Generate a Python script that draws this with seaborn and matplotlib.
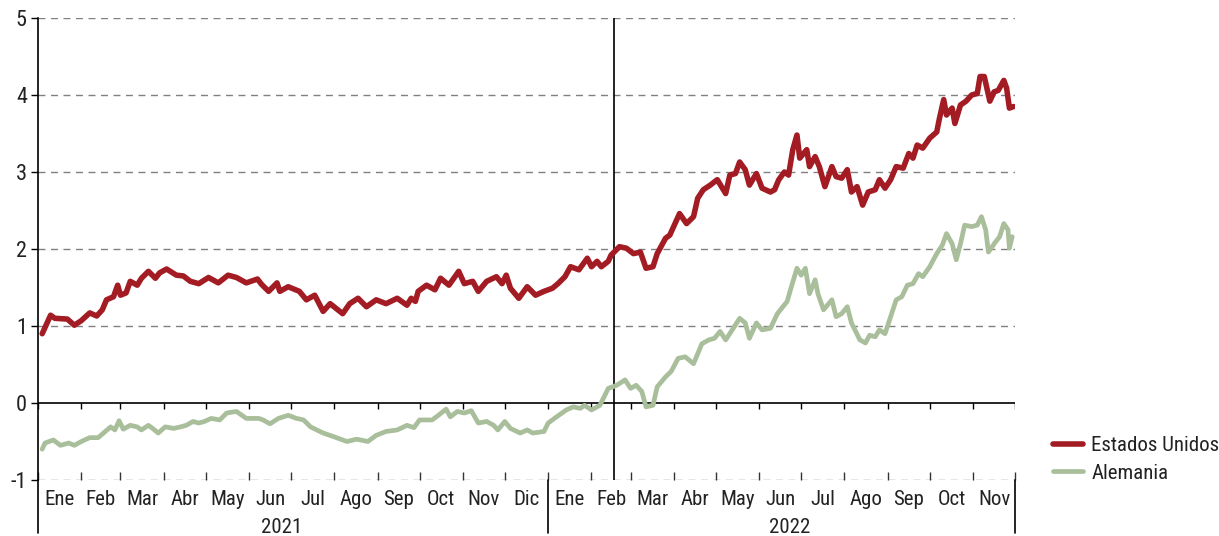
import matplotlib
matplotlib.use("Agg")
import matplotlib.pyplot as plt
import matplotlib.transforms as mtransforms
from matplotlib.lines import Line2D
from matplotlib import font_manager
import seaborn as sns
import pandas as pd

# ---------------- data ----------------
us_dates = [
    "2021-01-04", "2021-01-10", "2021-01-13", "2021-01-22", "2021-01-27", "2021-02-01", "2021-02-07",
    "2021-02-12", "2021-02-16", "2021-02-19", "2021-02-24", "2021-02-27", "2021-03-01", "2021-03-05",
    "2021-03-08", "2021-03-13", "2021-03-16", "2021-03-21", "2021-03-26", "2021-03-29", "2021-04-03",
    "2021-04-10", "2021-04-15", "2021-04-20", "2021-04-26", "2021-05-03", "2021-05-10", "2021-05-17",
    "2021-05-23", "2021-05-30", "2021-06-07", "2021-06-10", "2021-06-15", "2021-06-21", "2021-06-23",
    "2021-06-29", "2021-07-07", "2021-07-12", "2021-07-18", "2021-07-24", "2021-07-29", "2021-08-07",
    "2021-08-12", "2021-08-18", "2021-08-24", "2021-08-31", "2021-09-07", "2021-09-15", "2021-09-22",
    "2021-09-25", "2021-09-28", "2021-09-30", "2021-10-06", "2021-10-12", "2021-10-16", "2021-10-22",
    "2021-10-29", "2021-11-02", "2021-11-08", "2021-11-12", "2021-11-18", "2021-11-25", "2021-11-29",
    "2021-12-02", "2021-12-05", "2021-12-11", "2021-12-17", "2021-12-23", "2021-12-29", "2022-01-04",
    "2022-01-08", "2022-01-13", "2022-01-17", "2022-01-23", "2022-01-29", "2022-02-01", "2022-02-05",
    "2022-02-08", "2022-02-13", "2022-02-15", "2022-02-21", "2022-02-26", "2022-03-03", "2022-03-08",
    "2022-03-12", "2022-03-17", "2022-03-20", "2022-03-26", "2022-03-29", "2022-04-03", "2022-04-05",
    "2022-04-10", "2022-04-15", "2022-04-18", "2022-04-22", "2022-04-27", "2022-05-02", "2022-05-08",
    "2022-05-11", "2022-05-15", "2022-05-18", "2022-05-22", "2022-05-25", "2022-05-30", "2022-06-03",
    "2022-06-09", "2022-06-12", "2022-06-15", "2022-06-19", "2022-06-22", "2022-06-25", "2022-06-28",
    "2022-06-30", "2022-07-05", "2022-07-07", "2022-07-11", "2022-07-14", "2022-07-18", "2022-07-23",
    "2022-07-26", "2022-07-30", "2022-08-03", "2022-08-06", "2022-08-10", "2022-08-14", "2022-08-18",
    "2022-08-23", "2022-08-26", "2022-08-30", "2022-09-03", "2022-09-07", "2022-09-12", "2022-09-16",
    "2022-09-19", "2022-09-22", "2022-09-26", "2022-10-01", "2022-10-06", "2022-10-08", "2022-10-11",
    "2022-10-13", "2022-10-17", "2022-10-19", "2022-10-23", "2022-10-27", "2022-10-31", "2022-11-04",
    "2022-11-06", "2022-11-09", "2022-11-13", "2022-11-16", "2022-11-19", "2022-11-23", "2022-11-25",
    "2022-11-27", "2022-11-30",
]
us_values = [
    0.90, 1.14, 1.10, 1.09, 1.01, 1.07, 1.17,
    1.13, 1.21, 1.34, 1.38, 1.53, 1.40, 1.43,
    1.58, 1.53, 1.62, 1.71, 1.62, 1.69, 1.74,
    1.66, 1.65, 1.58, 1.55, 1.63, 1.56, 1.66,
    1.63, 1.56, 1.61, 1.54, 1.45, 1.56, 1.45,
    1.51, 1.45, 1.34, 1.40, 1.19, 1.29, 1.16,
    1.29, 1.36, 1.25, 1.34, 1.29, 1.36, 1.27,
    1.36, 1.32, 1.45, 1.53, 1.47, 1.62, 1.53,
    1.71, 1.55, 1.58, 1.45, 1.58, 1.64, 1.55,
    1.66, 1.49, 1.36, 1.51, 1.40, 1.45, 1.49,
    1.55, 1.64, 1.77, 1.73, 1.88, 1.77, 1.84,
    1.77, 1.84, 1.92, 2.03, 2.01, 1.94, 1.96,
    1.75, 1.77, 1.94, 2.14, 2.18, 2.38, 2.46,
    2.33, 2.42, 2.66, 2.77, 2.83, 2.90, 2.72,
    2.96, 2.98, 3.13, 3.03, 2.83, 2.98, 2.79,
    2.74, 2.77, 2.90, 3.00, 2.96, 3.29, 3.48,
    3.18, 3.29, 3.07, 3.20, 3.07, 2.81, 3.07,
    2.94, 2.92, 3.03, 2.74, 2.81, 2.57, 2.74,
    2.77, 2.90, 2.79, 2.90, 3.07, 3.05, 3.24,
    3.18, 3.35, 3.31, 3.44, 3.52, 3.70, 3.94,
    3.74, 3.83, 3.63, 3.87, 3.92, 4.00, 4.02,
    4.24, 4.24, 3.92, 4.04, 4.06, 4.19, 4.09,
    3.83, 3.85,
]
de_dates = [
    "2021-01-04", "2021-01-06", "2021-01-12", "2021-01-17", "2021-01-23", "2021-01-27", "2021-02-01",
    "2021-02-07", "2021-02-13", "2021-02-22", "2021-02-25", "2021-02-28", "2021-03-03", "2021-03-08",
    "2021-03-13", "2021-03-16", "2021-03-21", "2021-03-24", "2021-03-28", "2021-04-02", "2021-04-08",
    "2021-04-13", "2021-04-17", "2021-04-22", "2021-04-26", "2021-04-30", "2021-05-05", "2021-05-11",
    "2021-05-16", "2021-05-23", "2021-05-30", "2021-06-08", "2021-06-11", "2021-06-16", "2021-06-22",
    "2021-06-29", "2021-07-05", "2021-07-10", "2021-07-15", "2021-07-24", "2021-08-01", "2021-08-10",
    "2021-08-17", "2021-08-25", "2021-08-31", "2021-09-07", "2021-09-15", "2021-09-22", "2021-09-27",
    "2021-10-01", "2021-10-10", "2021-10-13", "2021-10-20", "2021-10-23", "2021-10-28", "2021-11-02",
    "2021-11-07", "2021-11-12", "2021-11-18", "2021-11-23", "2021-11-26", "2021-12-01", "2021-12-05",
    "2021-12-12", "2021-12-17", "2021-12-21", "2021-12-29", "2022-01-01", "2022-01-07", "2022-01-14",
    "2022-01-19", "2022-01-24", "2022-01-27", "2022-02-01", "2022-02-07", "2022-02-13", "2022-02-19",
    "2022-02-25", "2022-03-01", "2022-03-05", "2022-03-09", "2022-03-12", "2022-03-17", "2022-03-20",
    "2022-03-26", "2022-03-30", "2022-04-04", "2022-04-09", "2022-04-15", "2022-04-21", "2022-04-26",
    "2022-04-30", "2022-05-04", "2022-05-08", "2022-05-12", "2022-05-18", "2022-05-22", "2022-05-25",
    "2022-05-30", "2022-06-03", "2022-06-09", "2022-06-14", "2022-06-21", "2022-06-24", "2022-06-28",
    "2022-07-01", "2022-07-04", "2022-07-07", "2022-07-11", "2022-07-13", "2022-07-17", "2022-07-23",
    "2022-07-26", "2022-07-30", "2022-08-03", "2022-08-06", "2022-08-12", "2022-08-16", "2022-08-19",
    "2022-08-23", "2022-08-26", "2022-08-30", "2022-09-03", "2022-09-07", "2022-09-11", "2022-09-15",
    "2022-09-19", "2022-09-23", "2022-09-26", "2022-10-01", "2022-10-06", "2022-10-10", "2022-10-13",
    "2022-10-17", "2022-10-20", "2022-10-23", "2022-10-26", "2022-10-31", "2022-11-04", "2022-11-07",
    "2022-11-10", "2022-11-12", "2022-11-17", "2022-11-20", "2022-11-23", "2022-11-26", "2022-11-27",
    "2022-11-29",
]
de_values = [
    -0.60, -0.52, -0.48, -0.55, -0.52, -0.55, -0.50,
    -0.45, -0.45, -0.31, -0.35, -0.23, -0.34, -0.29,
    -0.31, -0.35, -0.29, -0.33, -0.39, -0.31, -0.33,
    -0.31, -0.29, -0.24, -0.26, -0.24, -0.20, -0.22,
    -0.13, -0.11, -0.20, -0.20, -0.22, -0.27, -0.20,
    -0.16, -0.20, -0.22, -0.31, -0.39, -0.44, -0.50,
    -0.47, -0.50, -0.42, -0.37, -0.35, -0.29, -0.32,
    -0.22, -0.22, -0.18, -0.08, -0.18, -0.11, -0.13,
    -0.10, -0.26, -0.24, -0.29, -0.35, -0.24, -0.33,
    -0.39, -0.35, -0.39, -0.37, -0.26, -0.18, -0.09,
    -0.05, -0.07, -0.03, -0.09, -0.03, 0.19, 0.23,
    0.30, 0.19, 0.23, 0.15, -0.05, -0.03, 0.21,
    0.34, 0.41, 0.58, 0.60, 0.51, 0.77, 0.82,
    0.84, 0.93, 0.82, 0.93, 1.10, 1.04, 0.84,
    1.04, 0.95, 0.97, 1.16, 1.32, 1.51, 1.75,
    1.66, 1.75, 1.42, 1.60, 1.42, 1.21, 1.34,
    1.12, 1.16, 1.25, 1.04, 0.82, 0.78, 0.88,
    0.86, 0.95, 0.90, 1.12, 1.34, 1.38, 1.53,
    1.55, 1.68, 1.64, 1.77, 1.94, 2.05, 2.20,
    2.07, 1.86, 2.07, 2.31, 2.29, 2.31, 2.42,
    2.25, 1.96, 2.09, 2.16, 2.33, 2.25, 2.01,
    2.16,
]
series_names = ["Estados Unidos", "Alemania"]
month_labels = ["Ene", "Feb", "Mar", "Abr", "May", "Jun", "Jul", "Ago", "Sep", "Oct", "Nov", "Dic",
                "Ene", "Feb", "Mar", "Abr", "May", "Jun", "Jul", "Ago", "Sep", "Oct", "Nov"]
year_labels = ["2021", "2022"]
year_label_dates = ["2021-06-24", "2022-06-23"]
year_bounds = ["2021-01-01", "2022-01-01", "2022-12-01"]
event_date = "2022-02-17"
y_ticks = [-1, 0, 1, 2, 3, 4, 5]

# ---------------- style ----------------
sns.set_theme(style="white")
installed = {f.name for f in font_manager.fontManager.ttflist}
fams = [f for f in ["Liberation Sans Narrow", "Roboto Condensed", "Roboto"] if f in installed]
plt.rcParams["font.family"] = fams + ["DejaVu Sans"]
RED = "#A31C23"
GREEN = "#A9BE9B"
FS = 15

df = pd.concat([
    pd.DataFrame({"fecha": pd.to_datetime(us_dates), "valor": us_values, "serie": series_names[0]}),
    pd.DataFrame({"fecha": pd.to_datetime(de_dates), "valor": de_values, "serie": series_names[1]}),
])

fig = plt.figure(figsize=(12.19, 5.36), dpi=100)
ax = fig.add_axes([38 / 1219, 1 - 480 / 536, (1015 - 38) / 1219, (480 - 18) / 536])

# grid
for yv in y_ticks:
    if yv != 0:
        ax.axhline(yv, color="#808080", lw=1.0, ls=(0, (5, 4)), zorder=0.5)
ax.axhline(0, color="black", lw=1.2, zorder=1)

sns.lineplot(data=df[df.serie == series_names[1]], x="fecha", y="valor", color=GREEN,
             lw=3.4, ax=ax, legend=False, zorder=3, solid_capstyle="round", solid_joinstyle="round")
sns.lineplot(data=df[df.serie == series_names[0]], x="fecha", y="valor", color=RED,
             lw=4.0, ax=ax, legend=False, zorder=4, solid_capstyle="round", solid_joinstyle="round")

x0, x1 = pd.Timestamp(year_bounds[0]), pd.Timestamp(year_bounds[-1])
ax.set_xlim(x0, x1)
ax.set_ylim(-1, 5)
ax.set_xlabel("")
ax.set_ylabel("")

# event line
ax.axvline(pd.Timestamp(event_date), color="black", lw=1.2, zorder=2)

# spines
for s in ["top", "right", "bottom"]:
    ax.spines[s].set_visible(False)
ax.spines["left"].set_color("black")
ax.spines["left"].set_linewidth(1.2)

# y ticks
ax.set_yticks(y_ticks)
ax.set_yticklabels([str(v) for v in y_ticks])
ax.tick_params(axis="y", which="major", direction="out", length=5, width=1, color="black",
               labelsize=16, pad=3, left=True, labelcolor="#222222")

# month ticks
month_starts = pd.date_range(year_bounds[0], year_bounds[-1], freq="MS")
mids = [month_starts[i] + (month_starts[i + 1] - month_starts[i]) / 2 for i in range(len(month_starts) - 1)]
ax.set_xticks(month_starts)
ax.set_xticklabels([""] * len(month_starts))
ax.set_xticks(mids, minor=True)
ax.set_xticklabels(month_labels, minor=True)
ax.tick_params(axis="x", which="major", direction="in", length=6, width=1, color="#333333", bottom=True)
ax.tick_params(axis="x", which="minor", length=0, labelsize=FS, pad=7.2, labelcolor="#222222")

# ticks hanging from the zero line
ax.vlines(month_starts, -0.08, 0, color="black", lw=1.0, zorder=1)

# year separators extending below the axis
trans = mtransforms.blended_transform_factory(ax.transData, ax.transAxes)
for b in year_bounds:
    ax.plot([pd.Timestamp(b), pd.Timestamp(b)], [0, -0.115], transform=trans, color="black",
            lw=1.2, clip_on=False)
for lab, d in zip(year_labels, year_label_dates):
    ax.text(pd.Timestamp(d), -0.103, lab, transform=trans, ha="center", va="center",
            fontsize=FS, color="#222222")

# legend
handles = [Line2D([], [], color=RED, lw=4.0), Line2D([], [], color=GREEN, lw=3.4)]
fig.legend(handles, series_names, loc="upper left", bbox_to_anchor=(1053 / 1219, 1 - 436 / 536),
           frameon=False, fontsize=FS, handlelength=1.45, handletextpad=0.38, labelspacing=0.42,
           borderpad=0, borderaxespad=0, labelcolor="#222222")

fig.savefig("out.png", dpi=100)
